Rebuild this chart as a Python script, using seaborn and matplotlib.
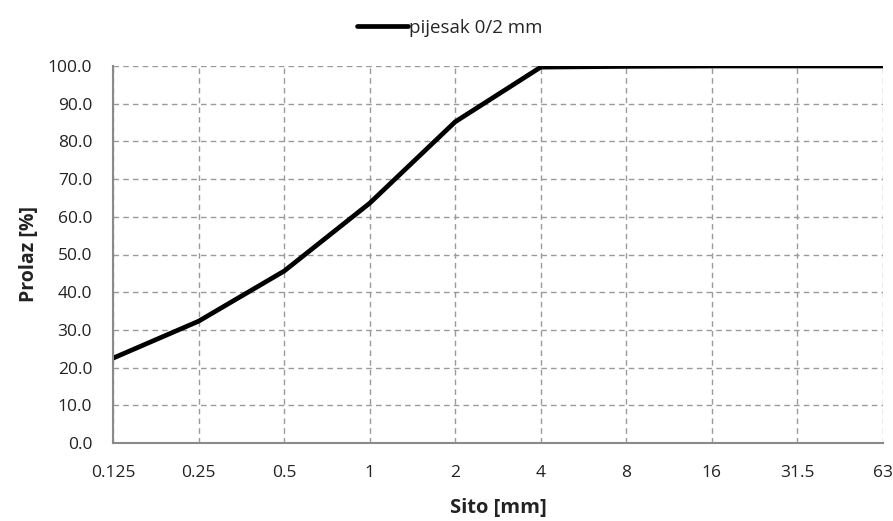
import numpy as np
import pandas as pd
import matplotlib
matplotlib.use("Agg")
import matplotlib.pyplot as plt
import seaborn as sns

# ── Data ──────────────────────────────────────────────
sieve_labels = ["0.125", "0.25", "0.5", "1", "2", "4", "8", "16", "31.5", "63"]
passing = [22.5, 32.3, 45.6, 63.6, 85.2, 99.7, 99.9, 100.0, 100.0, 100.0]
series_name = "pijesak 0/2 mm"

sns.set_theme(style="white")
plt.rcParams["font.family"] = ["Open Sans", "DejaVu Sans"]

df = pd.DataFrame({
    "pos": np.arange(len(sieve_labels)),
    "passing": passing,
    "serija": series_name,
})

fig = plt.figure(figsize=(8.93, 5.21), dpi=100)
ax = fig.add_axes([113 / 893, 1 - 443 / 521, (883 - 113) / 893, (443 - 66) / 521])

sns.lineplot(data=df, x="pos", y="passing", hue="serija", palette=["black"],
             linewidth=3.4, ax=ax)

grid_kw = dict(color="#9a9a9a", linestyle=(0, (4, 3)), linewidth=1.0)
ax.set_xlim(0, len(sieve_labels) - 1)
ax.set_ylim(0, 100)
ax.set_xticks(df["pos"])
ax.set_xticklabels(sieve_labels)
ax.set_yticks(np.arange(0, 101, 10))
ax.set_yticklabels([f"{v:.1f}" for v in np.arange(0, 101, 10)])
ax.grid(True, **grid_kw)
ax.set_axisbelow(True)

for side in ["top", "right"]:
    ax.spines[side].set_visible(False)
for side in ["left", "bottom"]:
    ax.spines[side].set_color("#8a8a8a")
    ax.spines[side].set_linewidth(1.5)

ax.tick_params(axis="both", which="major", length=6, width=1.3, color="#8a8a8a",
               labelsize=12.5, labelcolor="#222222", direction="out")
ax.tick_params(axis="y", pad=9)
ax.tick_params(axis="x", pad=10)

ax.set_xlabel("Sito [mm]", fontsize=14.5, fontweight="bold", color="#222222", labelpad=12)
ax.set_ylabel("Prolaz [%]", fontsize=14, fontweight="bold", color="#222222", labelpad=6)

ax.legend(loc="upper center", bbox_to_anchor=(0.4375, 1.145), frameon=False,
          fontsize=13.5, handlelength=2.7, handletextpad=0.05, borderaxespad=0)

fig.savefig("out.png", dpi=100, facecolor="white")
plt.close(fig)
